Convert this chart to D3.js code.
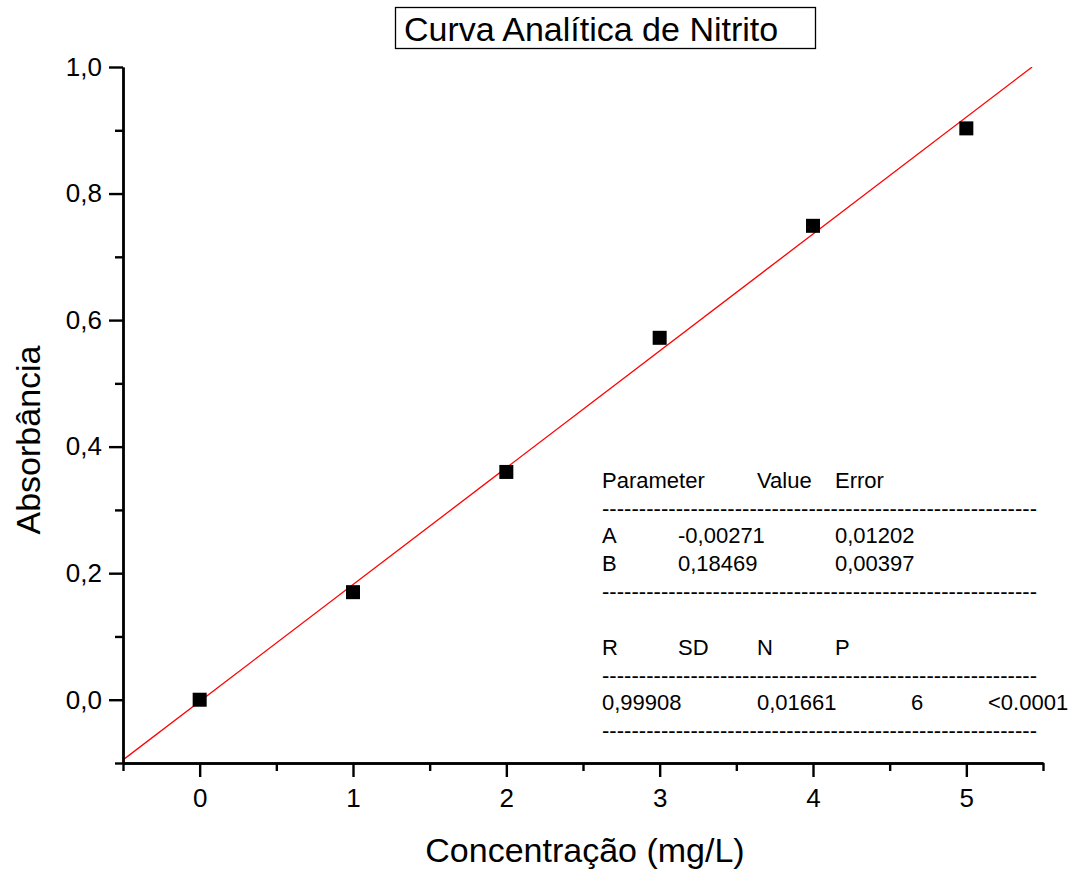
<!DOCTYPE html>
<html>
<head>
<meta charset="utf-8">
<script src="https://cdn.jsdelivr.net/npm/d3@7"></script>
<style>
	body { margin: 0; background: #fff; }
</style>
</head>
<body>
<svg id="chart" width="1078" height="874" font-family="'Liberation Sans', Arial, sans-serif"></svg>
<script>
const concentration = [0, 1, 2, 3, 4, 5];
const absorbance = [0.0, 0.17, 0.36, 0.572, 0.749, 0.903];
const fitA = -0.00271;
const fitB = 0.18469;
const xTicks = [0, 1, 2, 3, 4, 5];
const yTicks = [0, 0.2, 0.4, 0.6, 0.8, 1.0];
const tableRows = [
	['Parameter', 'Value', 'Error'],
	['A', '-0,00271', '0,01202'],
	['B', '0,18469', '0,00397'],
	['R', 'SD', 'N', 'P'],
	['0,99908', '0,01661', '6', '<0.0001'],
];

const FONT = "'Liberation Sans', Arial, sans-serif";
const margin = { top: 67, right: 35, bottom: 111, left: 123 };
const width = 1078 - margin.left - margin.right;
const height = 874 - margin.top - margin.bottom;

const svg = d3.select('#chart');
const g = svg.append('g')
	.attr('transform', `translate(${ margin.left }, ${ margin.top })`);

const x = d3.scaleLinear().domain([-0.5, 5.5]).range([0, width]);
const y = d3.scaleLinear().domain([-0.1, 1.0]).range([height, 0]);

const fmt = d => d3.format('.1f')(d).replace('.', ',');

// clip for the fit line
svg.append('defs').append('clipPath').attr('id', 'plot')
	.append('rect').attr('width', width).attr('height', height);

// fit line, stops at the top of the frame
const x1 = Math.min(5.5, (1.0 - fitA) / fitB);
g.append('line')
	.attr('clip-path', 'url(#plot)')
	.attr('x1', x(-0.5)).attr('y1', y(fitA + fitB * -0.5))
	.attr('x2', x(x1)).attr('y2', y(fitA + fitB * x1))
	.attr('stroke', '#ff0000')
	.attr('stroke-width', 1.3);

// points
const s = 14;
g.selectAll('rect.pt')
	.data(concentration.map((c, i) => ({ c, a: absorbance[i] })))
	.join('rect')
		.attr('class', 'pt')
		.attr('x', d => x(d.c) - s / 2)
		.attr('y', d => y(d.a) - s / 2)
		.attr('width', s)
		.attr('height', s)
		.attr('fill', '#000');

// X axis
const xMinor = d3.range(-0.5, 5.51, 0.5).filter(v => !xTicks.includes(v));
const xAxis = g.append('g').attr('transform', `translate(0, ${ height })`);
xAxis.call(d3.axisBottom(x).tickValues(xTicks).tickFormat(d3.format('d')).tickSize(14).tickSizeOuter(0).tickPadding(12));
xAxis.append('g').call(d3.axisBottom(x).tickValues(xMinor).tickFormat('').tickSize(8).tickSizeOuter(0));

// Y axis
const yMinor = d3.range(-1, 11, 2).map(v => v / 10);
const yAxis = g.append('g');
yAxis.call(d3.axisLeft(y).tickValues(yTicks).tickFormat(fmt).tickSize(14).tickSizeOuter(0).tickPadding(7));
yAxis.append('g').call(d3.axisLeft(y).tickValues(yMinor).tickFormat('').tickSize(8).tickSizeOuter(0));

[xAxis, yAxis].forEach(a => {
	a.selectAll('g').attr('font-family', FONT);
	a.attr('font-family', FONT);
	a.selectAll('.domain').attr('stroke-width', 2.4);
	a.selectAll('.tick line').attr('stroke-width', 2.4);
	a.selectAll('.tick text').attr('font-size', 26).attr('fill', '#000');
});

// axis titles
svg.append('text')
	.attr('x', 585).attr('y', 862)
	.attr('text-anchor', 'middle')
	.attr('font-size', 34)
	.text('Concentração (mg/L)');

svg.append('text')
	.attr('transform', 'translate(40, 440) rotate(-90)')
	.attr('text-anchor', 'middle')
	.attr('font-size', 34)
	.text('Absorbância');

// title box
svg.append('rect')
	.attr('x', 395.5).attr('y', 7.5).attr('width', 420).attr('height', 41)
	.attr('fill', 'none').attr('stroke', '#000').attr('stroke-width', 1.3);
svg.append('text')
	.attr('x', 404).attr('y', 41)
	.attr('font-size', 34)
	.text('Curva Analítica de Nitrito');

// fit report
const tbl = svg.append('g').attr('font-size', 22);
const colsA = [602, 757, 835];
const colsB = [602, 678, 835];
const colsC = [602, 678, 757, 835];
const colsD = [602, 757, 911, 988];
const rowY = [488, 543, 571, 655, 710];
const rowCols = [colsA, colsB, colsB, colsC, colsD];
tableRows.forEach((row, r) => {
	row.forEach((t, c) => {
		tbl.append('text')
			.attr('x', rowCols[r][c]).attr('y', rowY[r])
			.text(t);
	});
});
const dashY = [516, 599, 683, 738];
const dashes = '-'.repeat(59);
dashY.forEach(dy => {
	tbl.append('text')
		.attr('x', 602).attr('y', dy)
		.attr('textLength', 435).attr('lengthAdjust', 'spacing')
		.text(dashes);
});
</script>
</body>
</html>
